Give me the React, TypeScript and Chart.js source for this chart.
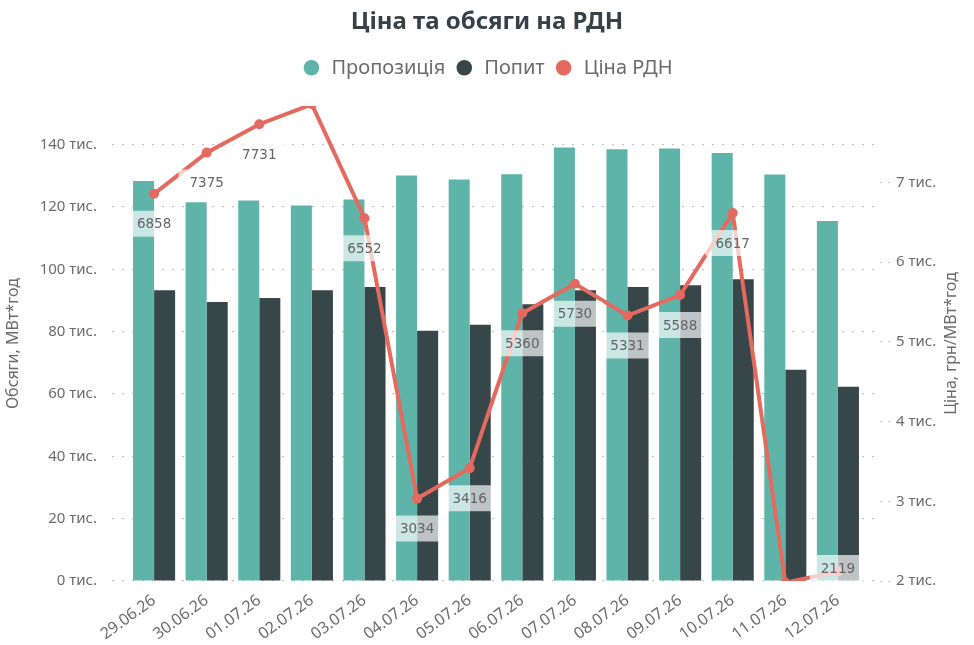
import { useEffect, useRef } from "react"
import { Chart, registerables, type ChartConfiguration, type Plugin } from "chart.js"

Chart.register(...registerables)

const dates = [
  "29.06.26", "30.06.26", "01.07.26", "02.07.26", "03.07.26", "04.07.26", "05.07.26",
  "06.07.26", "07.07.26", "08.07.26", "09.07.26", "10.07.26", "11.07.26", "12.07.26",
]
// МВт*год
const supply = [128300, 121500, 122100, 120500, 122400, 130100, 128800, 130500, 139100, 138500, 138800, 137300, 130400, 115500]
const demand = [93300, 89500, 90800, 93300, 94300, 80300, 82200, 88800, 93300, 94300, 94900, 96800, 67800, 62300]
// грн/МВт*год
const price = [6858, 7375, 7731, 7981, 6552, 3034, 3416, 5360, 5730, 5331, 5588, 6617, 1980, 2119]

const volumeTicks = [0, 20000, 40000, 60000, 80000, 100000, 120000, 140000]
const priceTicks = [2000, 3000, 4000, 5000, 6000, 7000]

const FONT = "'Noto Sans', 'Open Sans', sans-serif"
const TEAL = "#5FB4A9"
const DARK = "#374649"
const RED = "#E4695E"
const GREY_TEXT = "#6b6b6b"
const GRID = "#c4c4c4"

const toXY = (arr: number[]) => arr.map((y, x) => ({ x, y }))
const thousands = (v: number | string) => `${Number(v) / 1000} тис.`

// white boxes with the price under each point
const priceLabels: Plugin<"bar"> = {
  id: "priceLabels",
  afterDatasetsDraw(chart) {
    const meta = chart.getDatasetMeta(2)
    const area = chart.chartArea
    const ctx = chart.ctx
    ctx.save()
    ctx.font = "13.5px 'DejaVu Sans', sans-serif"
    ctx.textAlign = "center"
    ctx.textBaseline = "middle"
    meta.data.forEach((pt, i) => {
      const { x, y } = pt.getProps(["x", "y"], true)
      if (y > area.bottom + 1 || y < area.top - 1) return
      const text = String(price[i])
      const w = ctx.measureText(text).width + 22
      const h = 26
      const cy = Math.min(y + 30, area.bottom - h / 2)
      ctx.fillStyle = "rgba(255,255,255,0.68)"
      ctx.beginPath()
      ctx.roundRect(x - w / 2, cy - h / 2, w, h, 4)
      ctx.fill()
      ctx.fillStyle = "#646464"
      ctx.fillText(text, x, cy + 1)
    })
    ctx.restore()
  },
}

// right axis title reads bottom-to-top
const rightTitle: Plugin<"bar"> = {
  id: "rightTitle",
  afterDraw(chart) {
    const { ctx, chartArea } = chart
    ctx.save()
    ctx.translate(chart.width - 23, (chartArea.top + chartArea.bottom) / 2)
    ctx.rotate(-Math.PI / 2)
    ctx.font = `16px ${FONT}`
    ctx.fillStyle = GREY_TEXT
    ctx.textAlign = "center"
    ctx.textBaseline = "middle"
    ctx.fillText("Ціна, грн/МВт*год", 0, 0)
    ctx.restore()
  },
}

export default function App() {
  const chartRef = useRef<HTMLCanvasElement>(null)
  const chartInstanceRef = useRef<Chart | null>(null)

  useEffect(() => {
    document.body.style.margin = "0"
    if (!chartRef.current) return
    const ctx = chartRef.current.getContext("2d")
    if (!ctx) return

    if (chartInstanceRef.current) chartInstanceRef.current.destroy()

    const config: ChartConfiguration<"bar"> = {
      type: "bar",
      data: {
        datasets: [
          {
            label: "Пропозиція",
            data: toXY(supply) as any,
            backgroundColor: TEAL,
            yAxisID: "y",
            barPercentage: 1,
            categoryPercentage: 0.8,
            order: 2,
          },
          {
            label: "Попит",
            data: toXY(demand) as any,
            backgroundColor: DARK,
            yAxisID: "y",
            barPercentage: 1,
            categoryPercentage: 0.8,
            order: 3,
          },
          {
            type: "line" as any,
            label: "Ціна РДН",
            data: toXY(price) as any,
            borderColor: RED,
            backgroundColor: RED,
            borderWidth: 4,
            pointRadius: 5,
            pointBackgroundColor: RED,
            pointBorderWidth: 0,
            tension: 0,
            yAxisID: "y1",
            clip: 0,
            order: 1,
          } as any,
        ],
      },
      options: {
        responsive: true,
        maintainAspectRatio: false,
        animation: false,
        layout: { padding: 0 },
        plugins: {
          title: {
            display: true,
            text: "Ціна та обсяги на РДН",
            color: "#374046",
            font: { family: FONT, size: 24, weight: "bold" },
            padding: { top: 8, bottom: 12 },
          },
          // empty spacer between the legend and the plot
          subtitle: {
            display: true,
            text: "",
            weight: 500,
            font: { size: 1 },
            padding: { top: 6, bottom: 11 },
          } as any,
          legend: {
            labels: {
              usePointStyle: true,
              pointStyle: "circle",
              boxHeight: 11,
              padding: 9,
              color: GREY_TEXT,
              font: { family: FONT, size: 20 },
              sort: (a, b) => (a.datasetIndex ?? 0) - (b.datasetIndex ?? 0),
              generateLabels: (chart) =>
                Chart.defaults.plugins.legend.labels
                  .generateLabels(chart)
                  .map((item) => ({ ...item, lineWidth: 0, pointStyle: "circle" })),
            },
          },
          tooltip: { enabled: false },
        },
        scales: {
          x: {
            type: "linear",
            min: -0.8,
            max: 13.8,
            offset: false,
            grid: { display: false },
            border: { display: false },
            ticks: {
              stepSize: 1,
              includeBounds: false,
              autoSkip: false,
              maxRotation: 36,
              minRotation: 36,
              padding: 2,
              color: GREY_TEXT,
              font: { family: FONT, size: 16 },
              callback: (v) => dates[v as number] ?? "",
            },
            afterFit: (s) => {
              s.height = 64
            },
          },
          y: {
            position: "left",
            min: 0,
            max: 152400,
            grid: { color: GRID, drawTicks: false, lineWidth: 1.2 },
            border: { display: false, dash: [2, 8] },
            ticks: {
              padding: 15,
              color: GREY_TEXT,
              font: { family: FONT, size: 15 },
              callback: thousands,
            },
            afterBuildTicks: (s) => {
              s.ticks = volumeTicks.map((value) => ({ value }))
            },
            title: {
              display: true,
              text: "Обсяги, МВт*год",
              color: GREY_TEXT,
              font: { family: FONT, size: 16 },
              padding: { top: 4, bottom: 0 },
            },
            afterFit: (s) => {
              s.width = 112
            },
          },
          y1: {
            position: "right",
            min: 2000,
            max: 7960,
            grid: {
              drawOnChartArea: false,
              drawTicks: true,
              tickLength: 10,
              tickColor: GRID,
              tickBorderDash: [2, 6],
            },
            border: { display: false },
            ticks: {
              padding: 6,
              color: GREY_TEXT,
              font: { family: FONT, size: 15 },
              callback: thousands,
            },
            afterBuildTicks: (s) => {
              s.ticks = priceTicks.map((value) => ({ value }))
            },
            afterFit: (s) => {
              s.width = 94
            },
          },
        },
      },
      plugins: [priceLabels, rightTitle],
    }

    chartInstanceRef.current = new Chart(ctx, config)

    return () => {
      if (chartInstanceRef.current) chartInstanceRef.current.destroy()
    }
  }, [])

  return (
    <div style={{ width: 974, height: 645, background: "#ffffff" }}>
      <canvas ref={chartRef} />
    </div>
  )
}
